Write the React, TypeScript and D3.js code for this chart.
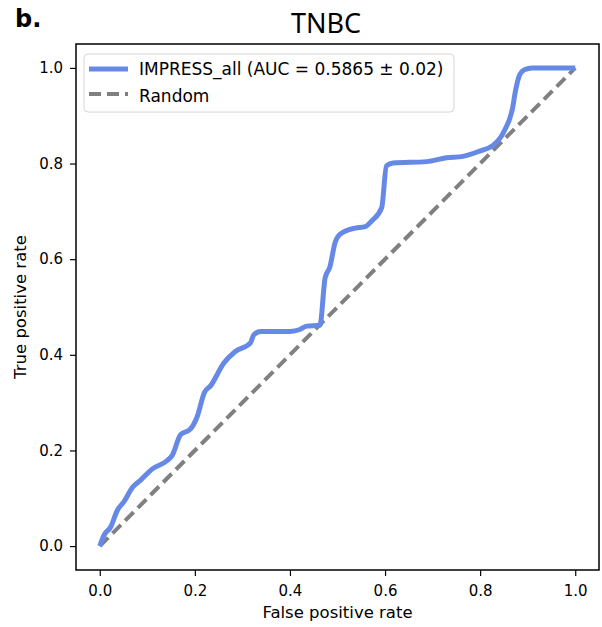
import React, { useEffect, useRef } from 'react';
import * as d3 from 'd3';

// Mean ROC curve (false positive rate / true positive rate)
const fpr = [
  0, 0.009, 0.023, 0.037, 0.051, 0.069, 0.086, 0.11, 0.142, 0.152, 0.17, 0.191,
  0.205, 0.22, 0.233, 0.261, 0.285, 0.317, 0.324, 0.338, 0.4, 0.421, 0.435, 0.463,
  0.474, 0.484, 0.495, 0.505, 0.537, 0.558, 0.572, 0.593, 0.603, 0.617, 0.687, 0.729,
  0.764, 0.799, 0.827, 0.844, 0.855, 0.862, 0.868, 0.874, 0.883, 0.893, 0.91, 0.935, 1.0,
];
const tpr = [
  0, 0.023, 0.04, 0.075, 0.093, 0.123, 0.138, 0.161, 0.179, 0.189, 0.233, 0.245,
  0.271, 0.321, 0.335, 0.383, 0.407, 0.425, 0.442, 0.449, 0.449, 0.453, 0.46, 0.462,
  0.561, 0.584, 0.635, 0.652, 0.665, 0.668, 0.68, 0.708, 0.795, 0.801, 0.804, 0.812,
  0.815, 0.826, 0.838, 0.856, 0.877, 0.893, 0.915, 0.95, 0.985, 0.996, 1.0, 1.0, 1.0,
];
const randomLine = [0, 1];
const ticks = [0, 0.2, 0.4, 0.6, 0.8, 1.0];

const seriesLabel = 'IMPRESS_all (AUC = 0.5865 ± 0.02)';
const randomLabel = 'Random';
const title = 'TNBC';
const panel = 'b.';

const W = 602;
const H = 627;
const margin = { left: 76, right: 3, top: 44, bottom: 57 };
const font = '"DejaVu Sans", sans-serif';
const blue = '#6689e8';
const grey = '#808080';

export default function App() {
  const svgRef = useRef<SVGSVGElement | null>(null);

  useEffect(() => {
    const svg = d3.select(svgRef.current);
    svg.selectAll('*').remove();

    const w = W - margin.left - margin.right;
    const h = H - margin.top - margin.bottom;

    const x = d3.scaleLinear().domain([-0.05, 1.05]).range([0, w]);
    const y = d3.scaleLinear().domain([-0.05, 1.05]).range([h, 0]);

    svg.append('rect').attr('width', W).attr('height', H).attr('fill', '#fff');

    const g = svg.append('g').attr('transform', `translate(${margin.left},${margin.top})`);

    // random diagonal
    const diag = d3.line<number>().x(d => x(d)).y(d => y(d));
    g.append('path')
      .datum(randomLine)
      .attr('fill', 'none')
      .attr('stroke', grey)
      .attr('stroke-width', 4)
      .attr('stroke-dasharray', '12,6')
      .attr('d', diag);

    // ROC curve
    const pts = fpr.map((f, i) => [f, tpr[i]] as [number, number]);
    const line = d3.line<[number, number]>()
      .x(d => x(d[0]))
      .y(d => y(d[1]))
      .curve(d3.curveMonotoneX);
    g.append('path')
      .datum(pts)
      .attr('fill', 'none')
      .attr('stroke', blue)
      .attr('stroke-width', 5)
      .attr('stroke-linejoin', 'round')
      .attr('d', line);

    // axes
    const xAxis = g.append('g')
      .attr('transform', `translate(0,${h})`)
      .call(d3.axisBottom(x).tickValues(ticks).tickFormat(d3.format('.1f')).tickSizeOuter(0).tickSize(6).tickPadding(4));
    const yAxis = g.append('g')
      .call(d3.axisLeft(y).tickValues(ticks).tickFormat(d3.format('.1f')).tickSizeOuter(0).tickSize(6).tickPadding(7));
    [xAxis, yAxis].forEach(a => {
      a.select('.domain').remove();
      a.selectAll('line').attr('stroke', '#000').attr('stroke-width', 1.2);
      a.selectAll('text').attr('font-family', font).attr('font-size', 15).attr('fill', '#000');
    });
    xAxis.selectAll('text').attr('dy', '1.05em');

    // frame
    g.append('rect')
      .attr('width', w)
      .attr('height', h)
      .attr('fill', 'none')
      .attr('stroke', '#000')
      .attr('stroke-width', 1.5);

    // legend
    const lg = g.append('g').attr('transform', 'translate(8,10)');
    lg.append('rect')
      .attr('width', 370)
      .attr('height', 58)
      .attr('rx', 4)
      .attr('fill', '#fff')
      .attr('fill-opacity', 0.8)
      .attr('stroke', '#d6d6d6')
      .attr('stroke-width', 1);
    lg.append('line')
      .attr('x1', 5).attr('x2', 44).attr('y1', 15).attr('y2', 15)
      .attr('stroke', blue).attr('stroke-width', 5);
    lg.append('line')
      .attr('x1', 5).attr('x2', 44).attr('y1', 40).attr('y2', 40)
      .attr('stroke', grey).attr('stroke-width', 4).attr('stroke-dasharray', '12,6');
    lg.append('text')
      .attr('x', 55).attr('y', 21)
      .attr('font-family', font).attr('font-size', 17)
      .text(seriesLabel);
    lg.append('text')
      .attr('x', 55).attr('y', 48)
      .attr('font-family', font).attr('font-size', 17)
      .text(randomLabel);

    // labels
    svg.append('text')
      .attr('x', margin.left + w / 2).attr('y', 618)
      .attr('text-anchor', 'middle')
      .attr('font-family', font).attr('font-size', 16.5)
      .text('False positive rate');
    svg.append('text')
      .attr('transform', `translate(26,${margin.top + h / 2}) rotate(-90)`)
      .attr('text-anchor', 'middle')
      .attr('font-family', font).attr('font-size', 16.5)
      .text('True positive rate');
    svg.append('text')
      .attr('x', 326).attr('y', 33)
      .attr('text-anchor', 'middle')
      .attr('font-family', '"Noto Sans", sans-serif').attr('font-size', 27)
      .text(title);
    svg.append('text')
      .attr('x', 15).attr('y', 27)
      .attr('font-family', font).attr('font-weight', 'bold').attr('font-size', 24)
      .text(panel);
  }, []);

  return (
    <div style={{ position: 'absolute', left: 0, top: 0 }}>
      <svg ref={svgRef} width={W} height={H} style={{ display: 'block' }} />
    </div>
  );
}
